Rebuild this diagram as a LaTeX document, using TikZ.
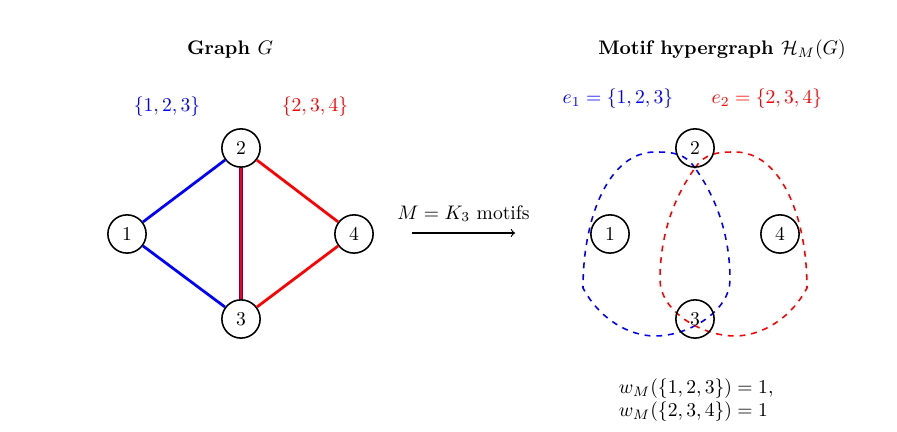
\documentclass[tikz,border=0pt]{standalone}
\usetikzlibrary{positioning}
\begin{document}
\begin{tikzpicture}[x=0.51pt, y=-0.51pt,
        vert/.style={draw, circle, thick, minimum size=19.5pt, inner sep=0pt},
        edg/.style={line width=1.4pt},
        hyp/.style={thick, dashed},
        ttl/.style={font=\bfseries},
    ]
        \useasboundingbox (0,0) rectangle (897,432);
        % graph G
        \node[ttl] (tg) at (230,50) {Graph $G$};
        \node[vert] (g1) at (127,234) {$1$};
        \node[vert] (g2) at (241,148) {$2$};
        \node[vert] (g3) at (241,319) {$3$};
        \node[vert] (g4) at (354,234) {$4$};
        \draw[edg, blue] (g1) -- (g2);
        \draw[edg, blue] (g1) -- (g3);
        \draw[line width=1.6pt, blue!70!red] (g2) -- (g3);
        \draw[edg, red] (g2) -- (g3);
        \draw[edg, red] (g2) -- (g4);
        \draw[edg, red] (g3) -- (g4);
        \node[blue] (s1) at (167,107) {$\{1,2,3\}$};
        \node[red]  (s2) at (315,107) {$\{2,3,4\}$};
        % pijl
        \coordinate (a0) at (412,233);
        \coordinate (a1) at (515,233);
        \draw[->, semithick] (a0) -- node[above=2pt] {$M = K_3$ motifs} (a1);
        % hypergraaf
        \node[ttl] (th) at (722,50) {Motif hypergraph $\mathcal{H}_M(G)$};
        \node[blue] (e1) at (618,99) {$e_1 = \{1,2,3\}$};
        \node[red]  (e2) at (767,99) {$e_2 = \{2,3,4\}$};
        \draw[hyp, blue] (695,168) .. controls (685,153) and (672,152) .. (655,152)
            .. controls (610,152) and (583,215) .. (583,288)
            .. controls (600,320) and (630,336) .. (655,336)
            .. controls (690,336) and (730,310) .. (730,280)
            .. controls (730,230) and (713,193) .. cycle;
        \draw[hyp, red] (695,168) .. controls (705,153) and (718,152) .. (735,152)
            .. controls (780,152) and (807,215) .. (807,288)
            .. controls (790,320) and (760,336) .. (735,336)
            .. controls (700,336) and (660,310) .. (660,280)
            .. controls (660,230) and (677,193) .. cycle;
        \node[vert] (h1) at (610,234) {$1$};
        \node[vert] (h2) at (695,148) {$2$};
        \node[vert] (h3) at (695,319) {$3$};
        \node[vert] (h4) at (780,234) {$4$};
        \node[align=left, anchor=west] (wm) at (612,400)
            {$w_M(\{1,2,3\}) = 1,$\\ $w_M(\{2,3,4\}) = 1$};
    \end{tikzpicture}
\end{document}
